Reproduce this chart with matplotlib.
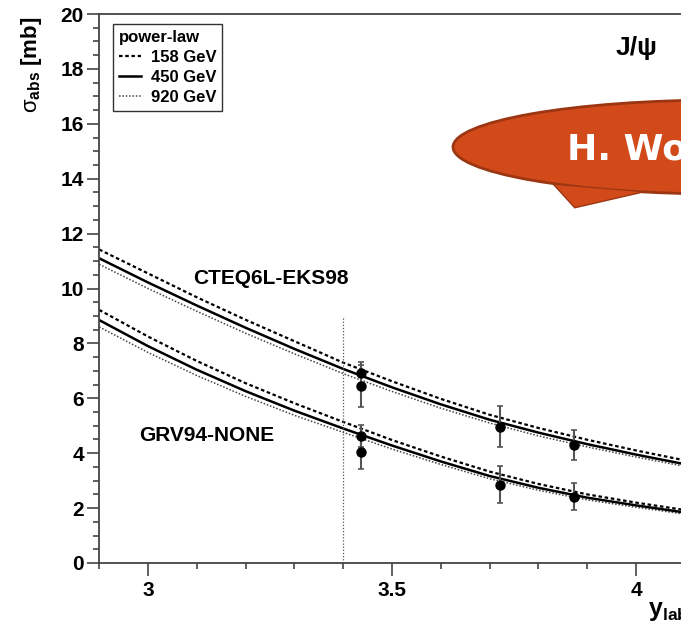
import matplotlib
matplotlib.use('Agg')
import matplotlib.pyplot as plt
from matplotlib.patches import Ellipse, Polygon
from matplotlib.lines import Line2D
from matplotlib.ticker import MultipleLocator

plt.rcParams['font.family'] = ['Liberation Sans', 'DejaVu Sans']
plt.rcParams['mathtext.fontset'] = 'custom'
plt.rcParams['mathtext.rm'] = 'Liberation Sans'
plt.rcParams['mathtext.bf'] = 'Liberation Sans:bold'
plt.rcParams['mathtext.it'] = 'Liberation Sans:italic'

# curves at steps of 0.1 in y_lab
y_lab = [2.9, 3.0, 3.1, 3.2, 3.3, 3.4, 3.5, 3.6, 3.7, 3.8, 3.9, 4.0, 4.1]
cteq_158 = [11.42, 10.55, 9.68, 8.86, 8.08, 7.30, 6.62, 5.98, 5.40, 4.92, 4.49, 4.10, 3.74]
cteq_450 = [11.10, 10.22, 9.38, 8.57, 7.80, 7.07, 6.40, 5.78, 5.22, 4.75, 4.33, 3.95, 3.60]
cteq_920 = [10.88, 10.00, 9.17, 8.37, 7.62, 6.90, 6.25, 5.64, 5.10, 4.63, 4.23, 3.86, 3.52]
grv_158 = [9.22, 8.25, 7.36, 6.55, 5.82, 5.14, 4.48, 3.88, 3.33, 2.88, 2.50, 2.20, 1.93]
grv_450 = [8.85, 7.90, 7.04, 6.26, 5.55, 4.90, 4.28, 3.70, 3.17, 2.74, 2.38, 2.10, 1.84]
grv_920 = [8.60, 7.67, 6.83, 6.07, 5.38, 4.76, 4.15, 3.59, 3.07, 2.65, 2.30, 2.03, 1.78]

# measured points
data_x = [3.436, 3.436, 3.721, 3.873]
cteq_data = [6.91, 6.45, 4.97, 4.30]
cteq_err = [0.42, 0.78, 0.75, 0.54]
grv_data = [4.63, 4.06, 2.85, 2.42]
grv_err = [0.40, 0.65, 0.68, 0.48]

cut_x = 3.4
cut_top = 9.0

W, H = 681, 632
fig = plt.figure(figsize=(W / 100, H / 100), dpi=100)
ax = fig.add_axes([99.2 / W, 69 / H, 634.4 / W, 549 / H])

dash = dict(color='black', lw=1.6, ls=(0, (1.6, 1.2)))
solid = dict(color='black', lw=1.8, ls='-')
dot = dict(color='#444444', lw=1.1, ls=(0, (1, 1.2)))

for c158, c450, c920 in [(cteq_158, cteq_450, cteq_920), (grv_158, grv_450, grv_920)]:
    ax.plot(y_lab, c920, **dot)
    ax.plot(y_lab, c158, **dash)
    ax.plot(y_lab, c450, **solid)

ax.vlines(cut_x, 0, cut_top, colors='#555555', lw=0.9, linestyles=(0, (1, 1.5)))

for vals, errs in [(cteq_data, cteq_err), (grv_data, grv_err)]:
    ax.errorbar(data_x, vals, yerr=errs, fmt='o', color='black', ms=6.5,
                ecolor='#555555', elinewidth=1.5, capsize=2.5, capthick=1.2, zorder=5)

ax.text(3.092, 10.38, 'CTEQ6L-EKS98', fontsize=15, fontweight='bold', va='center', ha='left')
ax.text(2.982, 4.63, 'GRV94-NONE', fontsize=15, fontweight='bold', va='center', ha='left')

ax.set_xlim(2.9, 4.2)
ax.set_ylim(0, 20)
ax.xaxis.set_major_locator(MultipleLocator(0.5))
ax.xaxis.set_minor_locator(MultipleLocator(0.1))
ax.yaxis.set_major_locator(MultipleLocator(2))
ax.yaxis.set_minor_locator(MultipleLocator(0.5))
ax.xaxis.set_major_formatter(plt.FuncFormatter(lambda v, p: '%g' % v))
for s in ax.spines.values():
    s.set_color('#444444')
    s.set_linewidth(1.3)
ax.tick_params(which='both', direction='out', color='#444444', width=1.2)
ax.tick_params(which='major', length=9, labelsize=15, pad=2)
ax.tick_params(which='minor', length=4.5)
ax.tick_params(axis='x', which='major', pad=4)
for lab in ax.get_xticklabels() + ax.get_yticklabels():
    lab.set_fontweight('bold')

handles = [Line2D([], [], **dash), Line2D([], [], **solid), Line2D([], [], **dot)]
leg = ax.legend(handles, ['158 GeV', '450 GeV', '920 GeV'], title='power-law',
                alignment='left', loc='upper left', bbox_to_anchor=(0.0218, 0.982),
                borderaxespad=0, fancybox=False, handlelength=1.3, handletextpad=0.6,
                labelspacing=0.3, borderpad=0.35, prop=dict(weight='bold', size=12),
                title_fontproperties=dict(weight='bold', size=12))
leg.get_frame().set_edgecolor('black')
leg.get_frame().set_linewidth(1.0)

fig.text(32 / W, 1 - 65 / H, r'σ$_{\mathbf{abs}}\ \mathbf{[mb]}$', rotation=90,
         fontsize=16, ha='center', va='center')
fig.text(648 / W, 1 - 616 / H, r'$\mathbf{y}_{\mathbf{lab}}$', fontsize=18, ha='left', va='baseline')
fig.text(616 / W, 1 - 55 / H, 'J/ψ', fontsize=19, fontweight='bold', ha='left', va='baseline')

# speech bubble overlay
bub_face = '#d24a1a'
bub_edge = '#9c3512'
tail = [(555 / W, 1 - 185 / H), (575 / W, 1 - 207 / H), (640 / W, 1 - 192 / H)]
fig.add_artist(Polygon(tail, closed=True, transform=fig.transFigure,
                       facecolor=bub_face, edgecolor=bub_edge, lw=2))
fig.add_artist(Ellipse((722 / W, 1 - 147 / H), 538 / W, 94 / H, transform=fig.transFigure,
                       facecolor=bub_face, edgecolor=bub_edge, lw=2))
fig.add_artist(Polygon(tail, closed=True, transform=fig.transFigure,
                       facecolor=bub_face, edgecolor='none'))
fig.text(567 / W, 1 - 150 / H, 'H. Wo', color='white', fontsize=26, fontweight='bold',
         family='DejaVu Sans', ha='left', va='center')

fig.savefig('out.png', dpi=100)
